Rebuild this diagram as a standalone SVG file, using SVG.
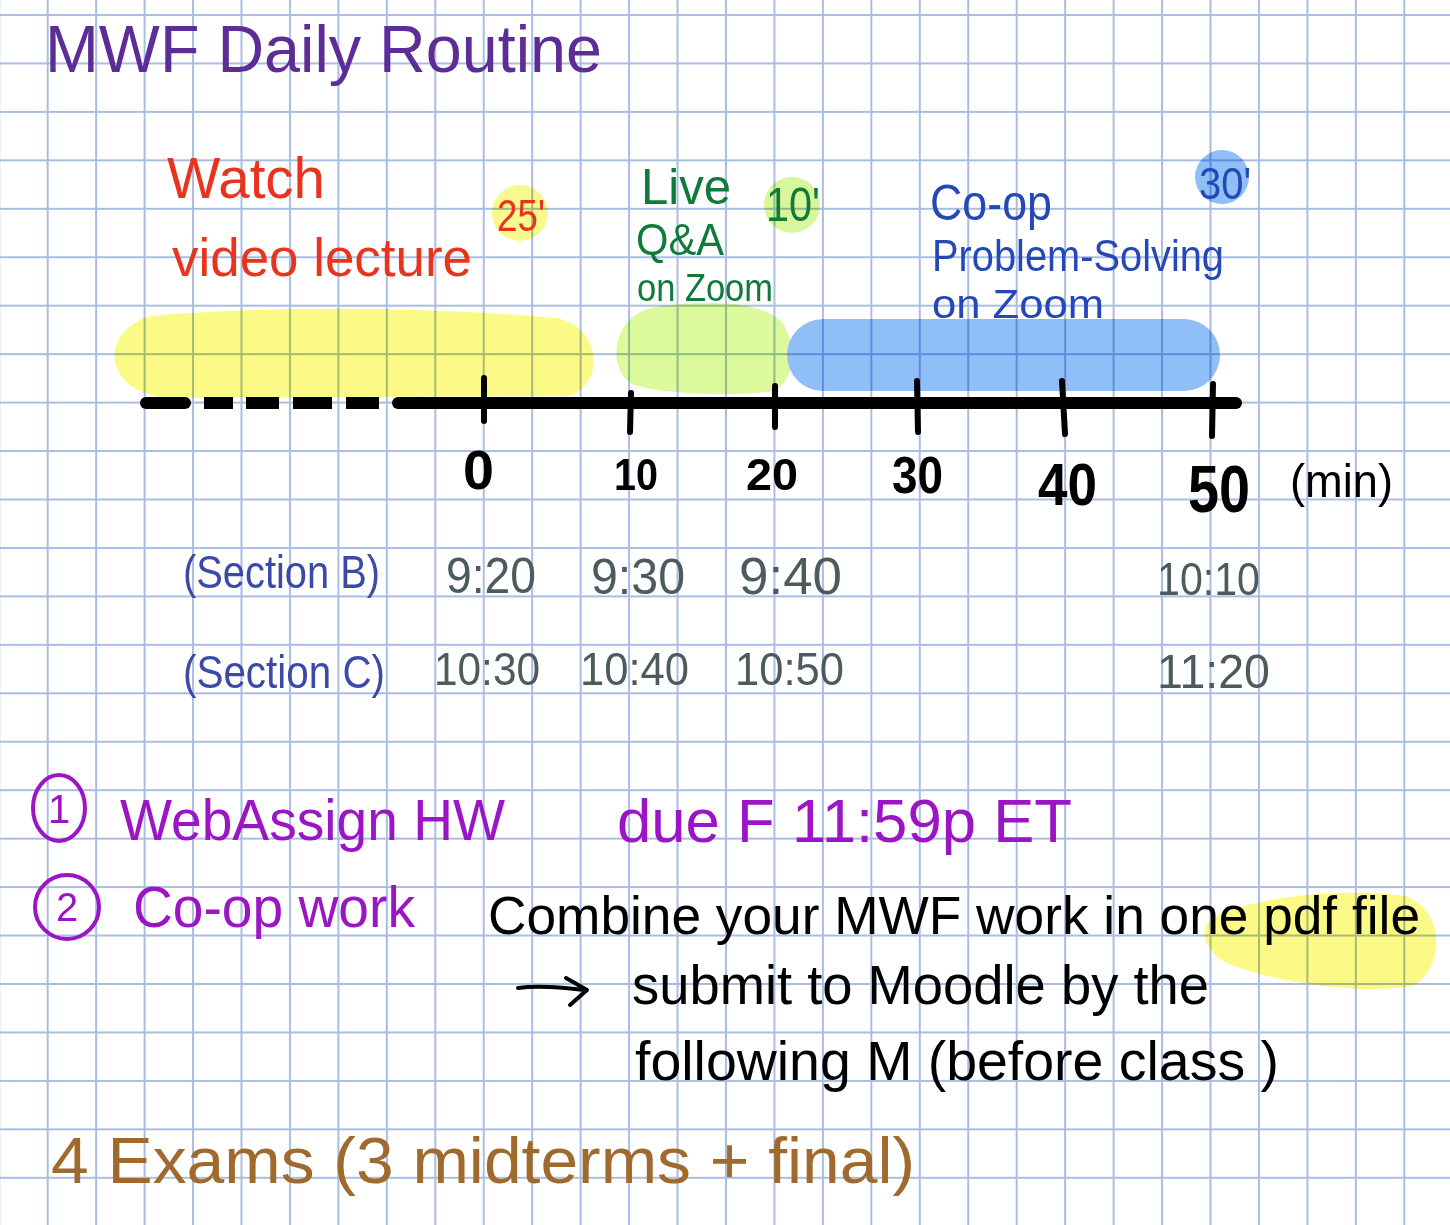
<svg xmlns="http://www.w3.org/2000/svg" width="1450" height="1225" viewBox="0 0 1450 1225">
<style>
text{font-family:"Liberation Sans",Arial,sans-serif}
.t{font-size:66px;fill:#5c2d96}
.red{fill:#e8341f}
.grn{fill:#0f7a3a}
.blu{fill:#2448b8}
.blk{fill:#000;font-weight:bold}
.gry{fill:#4d5a5e}
.sec{fill:#3b4aa8}
.pur{fill:#9b14c6}
.ink{fill:#000}
.brn{fill:#a0692e}
.hl{mix-blend-mode:multiply}
.tick{stroke:#000;stroke-width:6;stroke-linecap:round;fill:none}
</style>
<defs>
<pattern id="grid" patternUnits="userSpaceOnUse" x="46.7" y="14" width="48.45" height="48.45">
<rect x="0" y="0" width="48.45" height="2" fill="#a9bde2"/>
<rect x="0" y="0" width="2" height="48.45" fill="#a9bde2"/>
</pattern>
</defs>
<rect width="1450" height="1225" fill="#fff"/>
<rect width="1450" height="1225" fill="url(#grid)"/>

<g id="highlights" class="hl">
<path d="M150 316 C260 306 420 306 556 318 C604 328 604 386 568 396 L170 398 C102 394 98 332 150 316 Z" fill="#fbfa86"/>
<path d="M650 308 C700 300 760 300 782 322 C798 345 795 385 770 392 C720 396 660 394 632 384 C608 370 610 320 650 308 Z" fill="#dcfa9c"/>
<rect x="787" y="319" width="433" height="72" rx="36" fill="#90bef7"/>
<circle cx="520" cy="213" r="28" fill="#f8f88c"/>
<circle cx="792" cy="205" r="28" fill="#d8f79a"/>
<circle cx="1222" cy="177" r="27" fill="#90bef7"/>
<path d="M1210 920 C1240 900 1330 886 1405 896 C1445 910 1445 965 1415 985 C1370 995 1290 985 1240 968 C1205 958 1198 932 1210 920 Z" fill="#fbfa86"/>
</g>

<g id="title"><text class="t" x="45" y="72" textLength="557" lengthAdjust="spacingAndGlyphs">MWF Daily Routine</text></g>

<g id="watch-video">
<text class="red" x="167" y="198" font-size="57" textLength="158" lengthAdjust="spacingAndGlyphs">Watch</text>
<text class="red" x="172" y="276" font-size="54" textLength="300" lengthAdjust="spacingAndGlyphs">video lecture</text>
<text class="red" x="497" y="231" font-size="44" textLength="48" lengthAdjust="spacingAndGlyphs">25'</text>
</g>

<g id="live-qa">
<text class="grn" x="641" y="204" font-size="50" textLength="90" lengthAdjust="spacingAndGlyphs">Live</text>
<text class="grn" x="636" y="255" font-size="44" textLength="88" lengthAdjust="spacingAndGlyphs">Q&amp;A</text>
<text class="grn" x="637" y="301" font-size="38" textLength="136" lengthAdjust="spacingAndGlyphs">on Zoom</text>
<text class="grn" x="766" y="221" font-size="48" textLength="54" lengthAdjust="spacingAndGlyphs">10'</text>
</g>

<g id="coop-problem-solving">
<text class="blu" x="930" y="220" font-size="50" textLength="122" lengthAdjust="spacingAndGlyphs">Co-op</text>
<text class="blu" x="932" y="271" font-size="44" textLength="292" lengthAdjust="spacingAndGlyphs">Problem-Solving</text>
<text class="blu" x="932" y="318" font-size="40" textLength="172" lengthAdjust="spacingAndGlyphs">on Zoom</text>
<text class="blu" x="1199" y="199" font-size="44" textLength="52" lengthAdjust="spacingAndGlyphs">30'</text>
</g>

<g id="timeline">
<g stroke="#000" stroke-width="12" fill="none">
<line x1="146" y1="403" x2="185" y2="403" stroke-linecap="round"/>
<line x1="204" y1="403" x2="233" y2="403"/>
<line x1="246" y1="403" x2="279" y2="403"/>
<line x1="293" y1="403" x2="332" y2="403"/>
<line x1="346" y1="403" x2="379" y2="403"/>
<line x1="398" y1="403" x2="1236" y2="403" stroke-linecap="round"/>
</g>
<line class="tick" x1="484" y1="378" x2="484" y2="421"/>
<line class="tick" x1="631" y1="393" x2="630" y2="432"/>
<line class="tick" x1="775" y1="386" x2="775" y2="427"/>
<line class="tick" x1="917" y1="381" x2="918" y2="432"/>
<line class="tick" x1="1062" y1="381" x2="1065" y2="434"/>
<line class="tick" x1="1213" y1="384" x2="1212" y2="436"/>
</g>

<g id="axis-labels">
<text class="blk" x="463" y="489" font-size="56" textLength="31" lengthAdjust="spacingAndGlyphs">0</text>
<text class="blk" x="614" y="490" font-size="44" textLength="44" lengthAdjust="spacingAndGlyphs">10</text>
<text class="blk" x="746" y="490" font-size="44" textLength="52" lengthAdjust="spacingAndGlyphs">20</text>
<text class="blk" x="892" y="493" font-size="52" textLength="51" lengthAdjust="spacingAndGlyphs">30</text>
<text class="blk" x="1038" y="505" font-size="60" textLength="59" lengthAdjust="spacingAndGlyphs">40</text>
<text class="blk" x="1188" y="512" font-size="66" textLength="62" lengthAdjust="spacingAndGlyphs">50</text>
<text class="ink" x="1290" y="497" font-size="46" textLength="103" lengthAdjust="spacingAndGlyphs">(min)</text>
</g>

<g id="section-b">
<text class="sec" x="183" y="588" font-size="46" textLength="197" lengthAdjust="spacingAndGlyphs">(Section B)</text>
<text class="gry" x="446" y="593" font-size="50" textLength="90" lengthAdjust="spacingAndGlyphs">9:20</text>
<text class="gry" x="591" y="594" font-size="50" textLength="94" lengthAdjust="spacingAndGlyphs">9:30</text>
<text class="gry" x="739" y="594" font-size="52" textLength="103" lengthAdjust="spacingAndGlyphs">9:40</text>
<text class="gry" x="1157" y="595" font-size="46" textLength="103" lengthAdjust="spacingAndGlyphs">10:10</text>
</g>

<g id="section-c">
<text class="sec" x="183" y="688" font-size="46" textLength="202" lengthAdjust="spacingAndGlyphs">(Section C)</text>
<text class="gry" x="434" y="685" font-size="46" textLength="106" lengthAdjust="spacingAndGlyphs">10:30</text>
<text class="gry" x="580" y="685" font-size="46" textLength="109" lengthAdjust="spacingAndGlyphs">10:40</text>
<text class="gry" x="735" y="685" font-size="46" textLength="109" lengthAdjust="spacingAndGlyphs">10:50</text>
<text class="gry" x="1157" y="688" font-size="48" textLength="113" lengthAdjust="spacingAndGlyphs">11:20</text>
</g>

<g id="item-webassign">
<ellipse cx="59" cy="808" rx="26" ry="33" fill="none" stroke="#9b14c6" stroke-width="4"/>
<text class="pur" x="59" y="823" font-size="40" text-anchor="middle">1</text>
<text class="pur" x="120" y="840" font-size="58" textLength="385" lengthAdjust="spacingAndGlyphs">WebAssign HW</text>
<text class="pur" x="617" y="842" font-size="61" textLength="455" lengthAdjust="spacingAndGlyphs">due F 11:59p ET</text>
</g>

<g id="item-coop-work">
<circle cx="67" cy="907" r="32" fill="none" stroke="#9b14c6" stroke-width="4"/>
<text class="pur" x="67" y="921" font-size="40" text-anchor="middle">2</text>
<text class="pur" x="133" y="927" font-size="57" textLength="282" lengthAdjust="spacingAndGlyphs">Co-op work</text>
</g>

<g id="submit-note">
<text class="ink" x="488" y="934" font-size="54" textLength="932" lengthAdjust="spacingAndGlyphs">Combine your MWF work in one pdf file</text>
<text class="ink" x="632" y="1004" font-size="55" textLength="577" lengthAdjust="spacingAndGlyphs">submit to Moodle by the</text>
<text class="ink" x="635" y="1080" font-size="56" textLength="644" lengthAdjust="spacingAndGlyphs">following M (before class )</text>
</g>

<g id="connectors" fill="none" stroke="#000" stroke-width="4" stroke-linecap="round" stroke-linejoin="round">
<path d="M518 988 C540 985 565 988 586 990"/>
<path d="M566 978 L587 990 L570 1005"/>
</g>

<g id="exams">
<text class="brn" x="51" y="1183" font-size="64" textLength="864" lengthAdjust="spacingAndGlyphs">4 Exams (3 midterms + final)</text>
</g>
</svg>
